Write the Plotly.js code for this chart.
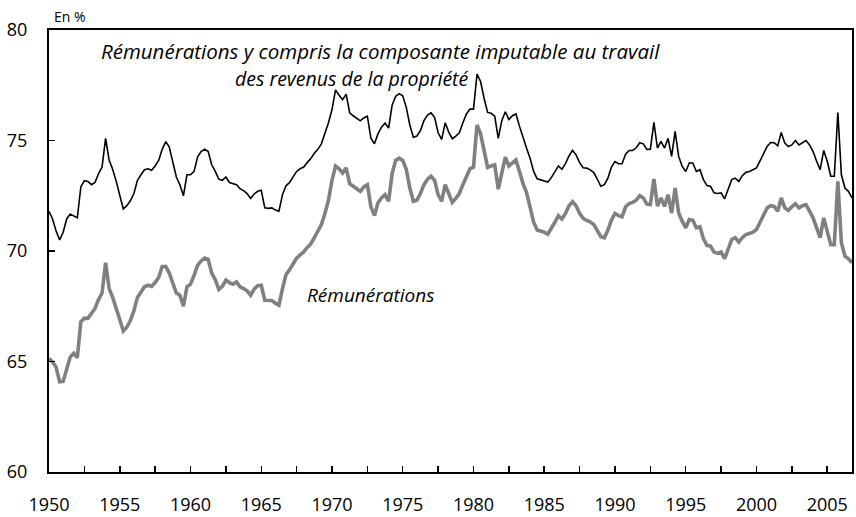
<!DOCTYPE html>
<html>
<head>
<meta charset="utf-8">
<script src="https://cdn.plot.ly/plotly-3.0.1.min.js"></script>
<style>
  html, body { margin: 0; padding: 0; background: #fff; }
  #graph { width: 856px; height: 517px; }
</style>
</head>
<body>
<div id="graph"></div>
<script>
// quarterly series, 1950Q1 -> 2006Q4 (in %)
const startYear = 1950;

const remunAvecPropriete = [
  71.8, 71.45, 70.9, 70.5, 70.85, 71.45, 71.67, 71.6, 71.5, 72.9,
  73.18, 73.15, 73.0, 73.1, 73.5, 73.8, 75.1, 74.1, 73.7, 73.15,
  72.5, 71.9, 72.05, 72.27, 72.6, 73.2, 73.45, 73.68, 73.72, 73.65,
  73.85, 74.1, 74.6, 74.95, 74.7, 74.0, 73.35, 73.0, 72.5, 73.45,
  73.45, 73.6, 74.25, 74.5, 74.61, 74.5, 73.9, 73.6, 73.25, 73.2,
  73.35, 73.1, 73.05, 73.0, 72.82, 72.73, 72.6, 72.38, 72.58, 72.7,
  72.75, 71.95, 71.93, 71.95, 71.85, 71.8, 72.55, 72.95, 73.1, 73.35,
  73.6, 73.72, 73.8, 74.0, 74.18, 74.42, 74.6, 74.85, 75.3, 75.8,
  76.4, 77.29, 77.05, 76.85, 77.1, 76.25, 76.12, 76.0, 75.89, 76.02,
  76.1, 75.1, 74.85, 75.3, 75.6, 75.79, 75.56, 76.6, 77.0, 77.12,
  77.02, 76.5, 75.7, 75.15, 75.2, 75.45, 75.9, 76.15, 76.25, 76.05,
  75.35, 75.05, 75.8, 75.38, 75.08, 75.2, 75.35, 75.8, 76.2, 76.42,
  76.42, 78.0, 77.67, 76.9, 76.27, 76.23, 76.1, 75.1, 75.9, 76.3,
  75.95, 76.12, 76.2, 75.65, 75.1, 74.65, 74.2, 73.6, 73.27, 73.23,
  73.18, 73.12, 73.32, 73.6, 73.85, 73.7, 73.95, 74.3, 74.55, 74.35,
  74.0, 73.77, 73.75, 73.67, 73.55, 73.25, 72.93, 73.0, 73.3, 73.8,
  74.05, 73.95, 73.95, 74.38, 74.55, 74.55, 74.67, 74.9, 74.85, 74.6,
  74.61, 75.82, 74.66, 74.96, 74.66, 75.1, 74.28, 75.41, 74.28, 73.83,
  73.6, 73.98, 73.98, 73.6, 73.68, 73.23, 72.96, 72.93, 72.63, 72.6,
  72.63, 72.36, 72.78, 73.23, 73.3, 73.15, 73.41, 73.56, 73.6, 73.68,
  73.76, 74.08, 74.4, 74.73, 74.91, 74.9, 74.76, 75.36, 74.88, 74.73,
  74.8, 75.0, 74.8, 74.91, 75.0, 74.8, 74.5, 74.06, 73.68, 74.55,
  74.06, 73.38, 73.38, 76.27, 73.45, 72.85, 72.7, 72.4
];

const remunerations = [
  65.13, 64.98, 64.75, 64.08, 64.1, 64.7, 65.2, 65.37, 65.17, 66.8,
  66.96, 66.95, 67.2, 67.4, 67.8, 68.1, 69.47, 68.3, 67.9, 67.45,
  66.9, 66.38, 66.55, 66.85, 67.3, 67.9, 68.15, 68.38, 68.45, 68.4,
  68.57, 68.8, 69.3, 69.3, 69.0, 68.5, 68.1, 68.0, 67.5, 68.38,
  68.5, 68.9, 69.35, 69.55, 69.68, 69.62, 69.0, 68.7, 68.26, 68.4,
  68.68, 68.57, 68.5, 68.6, 68.38, 68.3, 68.2, 68.0, 68.28, 68.43,
  68.45, 67.77, 67.75, 67.76, 67.64, 67.55, 68.3, 68.93, 69.15, 69.45,
  69.68, 69.82, 69.96, 70.16, 70.32, 70.6, 70.9, 71.2, 71.7, 72.3,
  73.2, 73.84, 73.72, 73.53, 73.76, 73.05, 72.93, 72.8, 72.7, 72.9,
  73.0, 72.0, 71.6, 72.18, 72.4, 72.55, 72.25, 73.5, 74.1, 74.2,
  74.1, 73.7, 72.85, 72.25, 72.3, 72.6, 73.0, 73.25, 73.38, 73.2,
  72.55, 72.25, 73.0, 72.6, 72.2, 72.38, 72.6, 73.0, 73.4, 73.72,
  73.8, 75.71, 75.3, 74.6, 73.78, 73.85, 73.9, 72.8, 73.6, 74.25,
  73.85, 74.0, 74.12, 73.6, 73.05, 72.65, 71.95, 71.3, 70.95, 70.92,
  70.85, 70.76, 71.0, 71.3, 71.6, 71.45, 71.7, 72.05, 72.23, 72.05,
  71.7, 71.48, 71.38, 71.32, 71.2, 70.95, 70.65, 70.6, 70.95, 71.4,
  71.7, 71.6, 71.55, 72.0, 72.15, 72.2, 72.3, 72.5, 72.4, 72.12,
  72.1, 73.26, 72.03, 72.4, 72.02, 72.55, 71.72, 72.85, 71.72, 71.35,
  71.05, 71.42, 71.39, 71.05, 71.1, 70.55, 70.25, 70.22, 69.95, 69.89,
  69.95, 69.65, 70.04, 70.52, 70.6, 70.4, 70.6, 70.74, 70.79, 70.85,
  70.97, 71.27, 71.6, 71.95, 72.05, 72.02, 71.8, 72.4, 71.95, 71.84,
  72.0, 72.14, 71.95, 72.05, 72.1, 71.8, 71.5, 71.05, 70.6, 71.5,
  70.9, 70.29, 70.29, 73.15, 70.37, 69.77, 69.65, 69.47
];

const tickYears = [1950, 1952.5, 1955, 1957.5, 1960, 1962.5, 1965, 1967.5, 1970, 1972.5,
  1975, 1977.5, 1980, 1982.5, 1985, 1987.5, 1990, 1992.5, 1995, 1997.5, 2000, 2002.5, 2005];
const tickLabels = ["1950", "", "1955", "", "1960", "", "1965", "", "1970", "",
  "1975", "", "1980", "", "1985", "", "1990", "", "1995", "", "2000", "", "2005"];

// x = year + quarter/4
const quarters = remunerations.map((v, i) => startYear + i / 4);

const font = "'Open Sans', 'DejaVu Sans', sans-serif";

let grey = {
  x: quarters, y: remunerations,
  mode: "lines", line: { color: "#808080", width: 3.6 },
  hoverinfo: "skip"
};

let black = {
  x: quarters, y: remunAvecPropriete,
  mode: "lines", line: { color: "#000000", width: 1.6 },
  hoverinfo: "skip"
};

let layout = {
  width: 856, height: 517,
  margin: { l: 49, r: 4, t: 30, b: 45 },
  showlegend: false,
  paper_bgcolor: "#ffffff", plot_bgcolor: "#ffffff",
  font: { family: font, size: 18, color: "#000" },
  xaxis: {
    range: [1950, 2006.75],
    tickvals: tickYears, ticktext: tickLabels,
    ticks: "inside", ticklen: 6, tickwidth: 1.5, tickcolor: "#000",
    showline: true, linewidth: 2, linecolor: "#000", mirror: true,
    showgrid: false, zeroline: false,
    ticklabelstandoff: 15,
    tickfont: { family: font, size: 18, color: "#000" }
  },
  yaxis: {
    range: [60, 80],
    tickvals: [60, 65, 70, 75, 80],
    ticks: "inside", ticklen: 6, tickwidth: 1.5, tickcolor: "#000",
    showline: true, linewidth: 2, linecolor: "#000", mirror: true,
    showgrid: false, zeroline: false,
    ticklabelstandoff: 16,
    tickfont: { family: font, size: 18, color: "#000" }
  },
  annotations: [
    { xref: "paper", yref: "paper", x: 0.004, y: 1.005, xanchor: "left", yanchor: "bottom",
      text: "En %", showarrow: false, font: { family: font, size: 14, color: "#000" } },
    { xref: "x", yref: "y", x: 1973.4, y: 79.07, xanchor: "center", yanchor: "middle",
      text: "<i>Rémunérations y compris la composante imputable au travail</i>",
      showarrow: false, font: { family: font, size: 20.5, color: "#000" } },
    { xref: "x", yref: "y", x: 1971.4, y: 77.8, xanchor: "center", yanchor: "middle",
      text: "<i>des revenus de la propriété</i>",
      showarrow: false, font: { family: font, size: 19.5, color: "#000" } },
    { xref: "x", yref: "y", x: 1972.7, y: 68.0, xanchor: "center", yanchor: "middle",
      text: "<i>Rémunérations</i>",
      showarrow: false, font: { family: font, size: 19, color: "#000" } }
  ]
};

let config = { staticPlot: true, responsive: false };
Plotly.newPlot("graph", [grey, black], layout, config);
</script>
</body>
</html>
